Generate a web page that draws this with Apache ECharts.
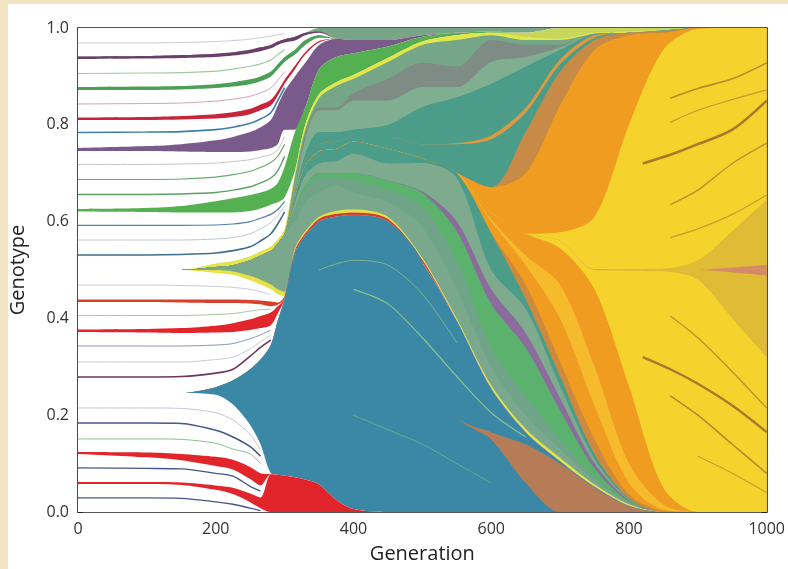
<!DOCTYPE html>
<html><head><meta charset="utf-8">
<script src="https://cdn.jsdelivr.net/npm/echarts@6/dist/echarts.min.js"></script>
<style>
html,body{margin:0;padding:0;background:#f2e5c3;}
#card{position:absolute;left:8px;top:4px;width:780px;height:565px;background:#ffffff;}
#chart{position:absolute;left:0;top:0;width:788px;height:569px;}
</style></head>
<body><div id="card"></div><div id="chart"></div>
<script>
// generations at which band boundaries were read
const G = [0,100,150,200,225,250,265,280,290,300,315,330,350,375,400,450,500,550,600,650,700,750,800,850,900,950,1000];
const xTicks = [0,200,400,600,800,1000];
const yTicks = [0.0,0.2,0.4,0.6,0.8,1.0];

// upper edge of each genotype band (fraction), bottom to top
const Y2L = [.5,.5,.5,.506,.51,.52,.53,.54,.555,.575];           // green-grey clone, left part
const tealTop = [.246,.246,.246,.258,.272,.295,.315,.345,.395,.44,.535,.57,.60,.61,.613,.60,.515,.395,.255,.165,.105,.052,.013,0,0,0,0];
const whA   = [.058,.058,.056,.046,.037,.020,.008,0,0,0,0,0,0,0,0,0,0,0,0,0,0,0,0,0,0,0,0];
const red2  = [.062,.062,.061,.055,.050,.038,.030,.078,.077,.075,.072,.067,.057,.025,.006,0,0,0,0,0,0,0,0,0,0,0,0];
const whB   = [.120,.113,.107,.095,.088,.068,.055,.078,.077,.075,.072,.067,.057,.025,.006,0,0,0,0,0,0,0,0,0,0,0,0];
const red4  = [.124,.123,.120,.114,.108,.093,.080,.078,.077,.075,.072,.067,.057,.025,.006,0,0,0,0,0,0,0,0,0,0,0,0];
const whC   = [.246,.246,.246,.242,.222,.180,.140,.080,.077,.075,.072,.067,.057,.025,.006,0,0,0,0,0,0,0,0,0,0,0,0];
const tealLo= [.246,.246,.246,.258,.272,.295,.315,.345,.395,.44,.535,.57,.60,.61,.613,.60,.515,.20,.15,.06,0,0,0,0,0,0,0];
const brown = [.246,.246,.246,.258,.272,.295,.315,.345,.395,.44,.535,.57,.60,.61,.613,.60,.515,.20,.165,.14,.10,.05,.012,0,0,0,0];
const whM1  = [.372,.371,.370,.371,.372,.376,.380,.386,.41,.44,.535,.57,.60,.61,.613,.60,.515,.395,.255,.165,.105,.052,.013,0,0,0,0];
const red12 = [.377,.378,.380,.385,.39,.398,.405,.412,.425,.44,.535,.57,.60,.61,.613,.60,.515,.395,.255,.165,.105,.052,.013,0,0,0,0];
const whM2  = [.434,.434,.433,.432,.432,.431,.429,.425,.428,.44,.535,.57,.60,.61,.613,.60,.515,.395,.255,.165,.105,.052,.013,0,0,0,0];
const redLn = [.439,.439,.439,.439,.439,.438,.437,.435,.433,.446,.541,.576,.606,.616,.619,.606,.521,.395,.255,.165,.105,.052,.013,0,0,0,0];
const whM3  = [.5,.5,.5,.494,.49,.479,.47,.46,.45,.446,.541,.576,.606,.616,.619,.606,.521,.395,.255,.165,.105,.052,.013,0,0,0,0];
const yelLo = [.5,.5,.5,.50,.497,.488,.48,.47,.46,.455,.545,.58,.61,.622,.625,.61,.525,.40,.262,.172,.112,.057,.016,0,0,0,0];
const ggA   = [...Y2L,.60,.64,.66,.675,.66,.64,.589,.46,.30,.20,.13,.065,.018,0,0,0,0];
const ggB   = [...Y2L,.62,.665,.69,.69,.686,.665,.63,.52,.34,.24,.15,.072,.02,0,0,0,0];
const greenM= [...Y2L,.625,.675,.70,.70,.70,.685,.659,.58,.43,.34,.21,.09,.022,0,0,0,0];
const purpM = [...Y2L,.625,.675,.70,.70,.70,.685,.662,.60,.46,.37,.235,.10,.024,0,0,0,0];
const ggC   = [...Y2L,.64,.695,.72,.725,.74,.72,.721,.69,.50,.42,.26,.11,.026,0,0,0,0];
const TGL   = [...Y2L,.65,.715,.745,.75,.765,.75,.73,.70];
const tgLo  = [...TGL,.576,.44,.28,.12,.028,0,0,0,0];
const boLo  = [...TGL,.576,.47,.31,.15,.036,.002,0,0,0];
const orLo  = [...TGL,.60,.51,.40,.22,.06,.005,0,0,0];
const yoS   = [...TGL,.605,.53,.47,.30,.10,.015,0,0,0];
const orLo2 = [...TGL,.62,.575,.545,.46,.26,.05,0,0,0];
const yelA  = [...TGL,.62,.575,.56,.50,.498,.497,.48,.40,.32];
const mustLo= [...TGL,.62,.575,.56,.501,.50,.50,.50,.495,.489];
const salmon= [...TGL,.62,.575,.56,.501,.50,.50,.50,.505,.511];
const mustHi= [...TGL,.62,.575,.56,.502,.502,.503,.52,.58,.645];
const yelB  = [...TGL,.62,.575,.578,.61,.80,.955,.998,1,1];
const orHi  = [...TGL,.671,.70,.84,.955,.985,.99,1,1,1];
const boHi  = [...TGL,.671,.785,.91,.975,.99,.992,1,1,1];
const tgMid = [...Y2L,.652,.725,.76,.765,.775,.775,.76,.76,.77,.825,.925,.98,.99,.993,1,1,1];
const orStr = [...Y2L,.652,.725,.76,.765,.775,.775,.76,.762,.778,.835,.935,.985,.99,.994,1,1,1];
const tgHi  = [...Y2L,.655,.74,.785,.785,.79,.80,.837,.857,.885,.92,.955,.987,.99,.995,1,1,1];
const ggD   = [...Y2L,.66,.77,.83,.83,.85,.85,.878,.878,.93,.94,.96,.988,.99,.995,1,1,1];
const grey  = [...Y2L,.663,.78,.835,.835,.865,.895,.928,.92,.975,.965,.965,.988,.99,.995,1,1,1];
const ggE   = [...Y2L,.692,.79,.855,.88,.895,.93,.965,.975,.985,.975,.975,.988,.99,.995,1,1,1];
const yelTop= [.5,.5,.5,.513,.518,.528,.538,.548,.563,.583,.70,.80,.863,.888,.903,.938,.972,.985,.99,.982,.978,.99,.993,.996,1,1,1];
const ygTop = [.5,.5,.5,.513,.518,.528,.538,.548,.563,.583,.70,.80,.863,.888,.903,.938,.972,.985,.99,.99,1,1,1,1,1,1,1];
const whU1  = [.621,.620,.619,.619,.619,.622,.627,.635,.64,.65,.705,.80,.863,.888,.903,.938,.972,.985,.99,.99,1,1,1,1,1,1,1];
const green20=[.626,.628,.632,.642,.648,.655,.66,.668,.68,.713,.785,.835,.915,.94,.948,.962,.982,.99,.993,.99,1,1,1,1,1,1,1];
const whU2  = [.746,.746,.745,.744,.744,.745,.748,.752,.76,.79,.79,.835,.915,.94,.948,.962,.982,.99,.993,.99,1,1,1,1,1,1,1];
const TOPR  = [.978,.975,.975,.985,.99,.993,.99,1,1,1,1,1,1,1];
const purp24= [.752,.756,.76,.768,.775,.785,.795,.81,.84,.87,.90,.928,.965,...TOPR];
const whU3  = [.810,.810,.811,.813,.816,.822,.83,.84,.86,.885,.915,.945,.97,...TOPR];
const red26 = [.815,.816,.818,.822,.826,.833,.842,.852,.87,.893,.922,.95,.973,...TOPR];
const whU4  = [.872,.872,.873,.876,.879,.884,.89,.90,.915,.93,.945,.965,.98,...TOPR];
const green28=[.878,.879,.88,.884,.888,.894,.90,.91,.925,.94,.955,.975,.985,...TOPR];
const whU5  = [.936,.937,.938,.94,.943,.948,.952,.958,.965,.97,.974,.985,.99,...TOPR];
const purp30= [.941,.942,.944,.947,.95,.955,.96,.965,.972,.977,.982,.99,.993,...TOPR];
const ggTop = [.941,.942,.944,.947,.95,.955,.96,.965,.972,.977,.982,.99,1,1,1,1,1,1,1,1,1,1,1,1,1,1,1];
const whU6  = [1,1,1,1,1,1,1,1,1,1,1,1,1,1,1,1,1,1,1,1,1,1,1,1,1,1,1];

// thin lineages in the white part (generations LG)
const LG = [0,100,150,200,225,250,265,280,290,300];
const ln1 = [.029,.029,.028,.021,.016,.008,.003,null,null,null];
const ln3 = [.091,.090,.089,.080,.074,.053,.043,null,null,null];
const ln5 = [.151,.151,.150,.142,.130,.120,.100,null,null,null];
const ln6 = [.184,.184,.183,.169,.155,.135,.115,null,null,null];
const ln7 = [.215,.215,.214,.205,.190,.160,.128,null,null,null];
const ln9 = [.279,.279,.280,.287,.295,.322,.340,.355,null,null];
const ln10= [.310,.310,.310,.315,.320,.337,.352,.366,null,null];
const ln11= [.343,.343,.343,.345,.348,.358,.366,.376,null,null];
const ln13= [.406,.406,.406,.408,.410,.415,.418,.419,null,null];
const ln15= [.469,.469,.468,.466,.464,.460,.455,.449,null,null];
const ln17= [.531,.531,.532,.535,.540,.548,.560,.575,.595,.620];
const ln18= [.562,.562,.562,.564,.567,.575,.585,.598,.612,.632];
const ln19= [.592,.592,.592,.593,.595,.600,.607,.615,.625,.642];
const ln21= [.656,.656,.657,.660,.665,.672,.680,.690,.705,.735];
const ln22= [.687,.687,.688,.692,.697,.704,.712,.722,.735,.760];
const ln23= [.718,.718,.719,.721,.724,.728,.733,.739,.748,.776];
const ln25= [.784,.785,.786,.790,.795,.803,.812,.825,.850,.877];
const ln27= [.843,.844,.845,.849,.853,.859,.866,.876,.892,.910];
const ln29= [.906,.907,.908,.911,.915,.921,.926,.934,.945,.955];
const ln31= [.969,.969,.970,.972,.974,.977,.980,.983,.986,.988];
// pale lines inside the teal clone
const TG = [350,400,450,500,550,600,650];
const tl1 = [null,.46,.43,.36,.28,.205,.155];
const tl2 = [.50,.52,.51,.45,.35,null,null];
const tl3 = [null,.20,.17,.14,.10,.06,null];
// dark lineages inside the final yellow clone
const YG = [820,860,900,950,1000];
const yl1 = [null,.855,.875,.895,.928];
const yl2 = [null,.805,.83,.852,.872];
const yl3 = [.72,.738,.76,.79,.85];
const yl4 = [null,.635,.665,.72,.762];
const yl5 = [null,.567,.585,.615,.655];
const yl6 = [null,.405,.36,.29,.215];
const yl8 = [.32,.295,.265,.22,.165];
const yl9 = [null,.24,.20,.14,.08];
const yl10= [null,null,.115,.08,.04];

const W = '#ffffff', TEAL = '#3a88a5', TGC = '#4b9d8a', RED = '#e2252a', YEL = '#f5d22c', OR = '#ef9c20';
const bands = [
  [whA,W],[red2,RED],[whB,W],[red4,RED],[whC,W],
  [tealLo,TEAL],[brown,'#b67b57'],[tealTop,TEAL],
  [whM1,W],[red12,RED],[whM2,W],[redLn,'#d8402c'],[whM3,W],[yelLo,'#e6e244'],
  [ggA,'#7aa88c'],[ggB,'#70a488'],[greenM,'#5bb26c'],[purpM,'#8b6c9c'],[ggC,'#7eab8e'],
  [tgLo,TGC],[boLo,'#cd8a3e'],[orLo,OR],[yoS,'#f5bb2c'],[orLo2,OR],
  [yelA,YEL],[mustLo,'#dfbb36'],[salmon,'#d48a66'],[mustHi,'#dfbb36'],[yelB,YEL],
  [orHi,OR],[boHi,'#c88a47'],[tgMid,TGC],[orStr,'#e1973c'],[tgHi,TGC],
  [ggD,'#80ae90'],[grey,'#7e8c85'],[ggE,'#74a687'],[yelTop,'#e2e648'],[ygTop,'#c8d65c'],
  [whU1,W],[green20,'#55b052'],[whU2,W],[purp24,'#7a5a8b'],[whU3,W],[red26,'#c8243a'],
  [whU4,W],[green28,'#4d9e56'],[whU5,W],[purp30,'#6b3f6a'],[ggTop,'#78a487'],[whU6,W]
];
const lines = [
  [LG,ln1,'#46568a',1.3],[LG,ln3,'#46568a',1.3],[LG,ln5,'#8cc08c',1],[LG,ln6,'#46568a',1.5],[LG,ln7,'#c3c8d6',1],
  [LG,ln9,'#6e3558',1.6],[LG,ln10,'#c8cbd8',1],[LG,ln11,'#8a96b6',1],[LG,ln13,'#a6c8a0',1],[LG,ln15,'#c8cbd8',1],
  [LG,ln17,'#3f6f8a',1.6],[LG,ln18,'#c0c8d0',1],[LG,ln19,'#5a80a8',1.2],[LG,ln21,'#5aa060',1.4],[LG,ln22,'#6aa870',1.2],
  [LG,ln23,'#c0c8c0',1],[LG,ln25,'#3e7fa8',1.6],[LG,ln27,'#d4a2b4',1],[LG,ln29,'#a0c8a0',1.2],[LG,ln31,'#c8cbd8',1],
  [TG,tl1,'#88c08e',1.2],[TG,tl2,'#7fb48e',1],[TG,tl3,'#6aa890',1],
  [YG,yl1,'#b98a2a',1.6],[YG,yl2,'#c49a2c',1.2],[YG,yl3,'#a9782a',2.6],[YG,yl4,'#c0922c',1.4],[YG,yl5,'#c89c2e',1.2],
  [YG,yl6,'#c0922c',1.4],[YG,yl8,'#a9782a',2.4],[YG,yl9,'#b88a2a',1.6],[YG,yl10,'#c89c2e',1.1]
];

const series = [];
bands.slice().reverse().forEach(([d,c])=>{
  series.push({type:'line', data:G.map((g,i)=>[g,d[i]]), smooth:0.3, symbol:'none', silent:true,
    lineStyle:{width:0}, areaStyle:{color:c, opacity:1, origin:'start'}});
});
lines.forEach(([gs,d,c,w])=>{
  series.push({type:'line', data:gs.map((g,i)=>[g,d[i]]), smooth:0.3, symbol:'none', silent:true, connectNulls:false,
    lineStyle:{width:w, color:c}});
});

const FONT = 'Open Sans';
const axLine = {show:true, onZero:false, lineStyle:{color:'#1e1e1e', width:1.6}};
const tick = {show:true, inside:true, length:5, lineStyle:{color:'#1e1e1e', width:1}};
const chart = echarts.init(document.getElementById('chart'), null, {renderer:'canvas'});
chart.setOption({
  animation:false,
  backgroundColor:'transparent',
  grid:{left:76, right:21, top:28, bottom:57, containLabel:false},
  xAxis:[
    {type:'value', min:0, max:1000, interval:200, position:'bottom', axisLine:axLine, axisTick:tick, splitLine:{show:false},
     axisLabel:{color:'#333', fontSize:16, fontFamily:FONT, margin:9, formatter:v=>String(v)},
     name:'Generation', nameLocation:'middle', nameGap:32, nameTextStyle:{fontSize:20, color:'#222', fontFamily:FONT}},
    {type:'value', min:0, max:1000, interval:200, position:'top', axisLine:axLine, axisTick:tick, axisLabel:{show:false}, splitLine:{show:false}}
  ],
  yAxis:[
    {type:'value', min:0, max:1, interval:0.2, position:'left', axisLine:axLine, axisTick:tick, splitLine:{show:false},
     axisLabel:{color:'#333', fontSize:16, fontFamily:FONT, margin:9, formatter:v=>v.toFixed(1)},
     name:'Genotype', nameLocation:'middle', nameGap:50, nameRotate:90, nameTextStyle:{fontSize:20, color:'#222', fontFamily:FONT}},
    {type:'value', min:0, max:1, interval:0.2, position:'right', axisLine:axLine, axisTick:tick, axisLabel:{show:false}, splitLine:{show:false}}
  ],
  series:series
});
</script></body></html>
